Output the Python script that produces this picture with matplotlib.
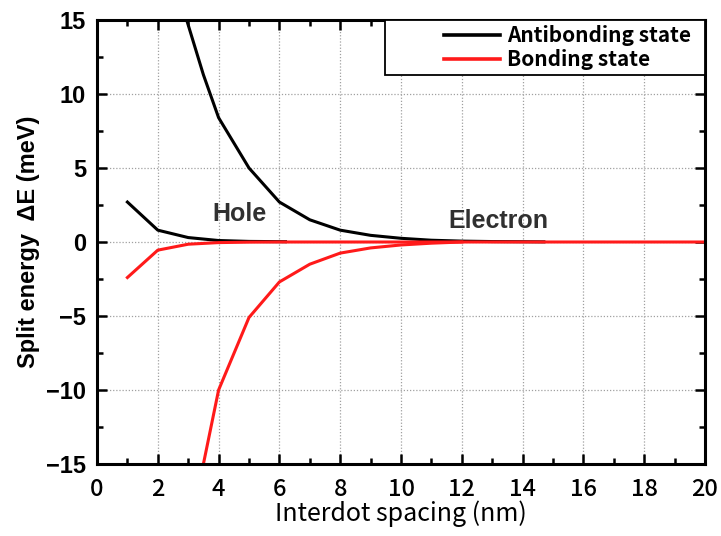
import numpy as np
import matplotlib.pyplot as plt
from matplotlib.patches import Rectangle
from matplotlib.ticker import MultipleLocator

# Electron: antibonding (upper) and bonding (lower) split energies
elec_x_anti = [2.95, 3.5, 4, 5, 6, 7, 8, 9, 10, 11, 12, 13, 14, 14.7]
elec_anti = [15.0, 11.3, 8.4, 5.0, 2.7, 1.5, 0.8, 0.45, 0.25, 0.12, 0.06, 0.03, 0.02, 0.01]
elec_x_bond = [3.5, 4, 5, 6, 7, 8, 9, 10, 11, 12]
elec_bond = [-15.0, -10.0, -5.1, -2.7, -1.5, -0.75, -0.4, -0.2, -0.08, 0.0]

# Hole: antibonding (upper) and bonding (lower) split energies
hole_x_anti = [1, 2, 3, 4, 5, 6.2]
hole_anti = [2.7, 0.8, 0.3, 0.1, 0.04, 0.02]
hole_x_bond = [1, 2, 3, 4, 5, 6, 8, 10, 12, 14, 16, 18, 20]
hole_bond = [-2.4, -0.55, -0.15, -0.04, -0.01, 0, 0, 0, 0, 0, 0, 0, 0]

cjk = ['Noto Sans CJK JP', 'DejaVu Sans']

fig = plt.figure(figsize=(7.21, 5.36), dpi=100)
ax = fig.add_axes([97 / 721, 1 - 464 / 536, 608 / 721, 444 / 536])

ax.plot(hole_x_anti, hole_anti, color='black', lw=2.2, label='Antibonding state')
ax.plot(elec_x_anti, elec_anti, color='black', lw=2.2)
ax.plot(hole_x_bond, hole_bond, color='#ff1a1a', lw=2.2, label='Bonding state')
ax.plot(elec_x_bond, elec_bond, color='#ff1a1a', lw=2.2)

ax.set_xlim(0, 20)
ax.set_ylim(-15, 15)
ax.xaxis.set_major_locator(MultipleLocator(2))
ax.xaxis.set_minor_locator(MultipleLocator(1))
ax.yaxis.set_major_locator(MultipleLocator(5))
ax.yaxis.set_minor_locator(MultipleLocator(2.5))
ax.tick_params(which='both', direction='in', top=True, right=True, width=1.8)
ax.tick_params(which='major', length=7)
ax.tick_params(which='minor', length=4)
ax.tick_params(axis='x', pad=10)
ax.tick_params(axis='y', pad=8)
for s in ax.spines.values():
    s.set_linewidth(2.2)

ax.grid(True, which='major', color='#a0a0a0', linestyle=(0, (1, 1.5)), lw=0.9)
ax.set_axisbelow(True)

for lab in ax.get_xticklabels():
    lab.set_family(cjk)
    lab.set_fontsize(17)
    lab.set_fontweight('medium')
for lab in ax.get_yticklabels():
    lab.set_family('Liberation Sans')
    lab.set_fontsize(17)
    lab.set_fontweight('bold')

ax.set_xlabel('Interdot spacing (nm)', family=cjk, fontsize=18, labelpad=0)
ax.set_ylabel('Split energy  ΔE (meV)', family='Liberation Sans', fontsize=17,
              fontweight='bold', labelpad=4)

ax.text(4.7, 1.9, 'Hole', family='Liberation Sans', fontsize=18, fontweight='bold',
        color='#303030', ha='center', va='center')
ax.text(13.2, 1.4, 'Electron', family='Liberation Sans', fontsize=18, fontweight='bold',
        color='#303030', ha='center', va='center')

# legend entries sit at the right of a wider box
ax.add_patch(Rectangle((0.474, 0.876), 0.526, 0.124, transform=ax.transAxes,
                       facecolor='white', edgecolor='black', lw=1.3, zorder=4,
                       clip_on=False))
leg = ax.legend(loc='upper right', bbox_to_anchor=(0.985, 1.0), borderaxespad=0,
                frameon=False, handlelength=2.7,
                prop={'family': cjk, 'size': 15, 'weight': 'bold'},
                labelspacing=0.15, borderpad=0.25, handletextpad=0.3)
leg.set_zorder(5)
for h in leg.legend_handles:
    h.set_linewidth(2.6)

fig.savefig('out.png', dpi=100)
